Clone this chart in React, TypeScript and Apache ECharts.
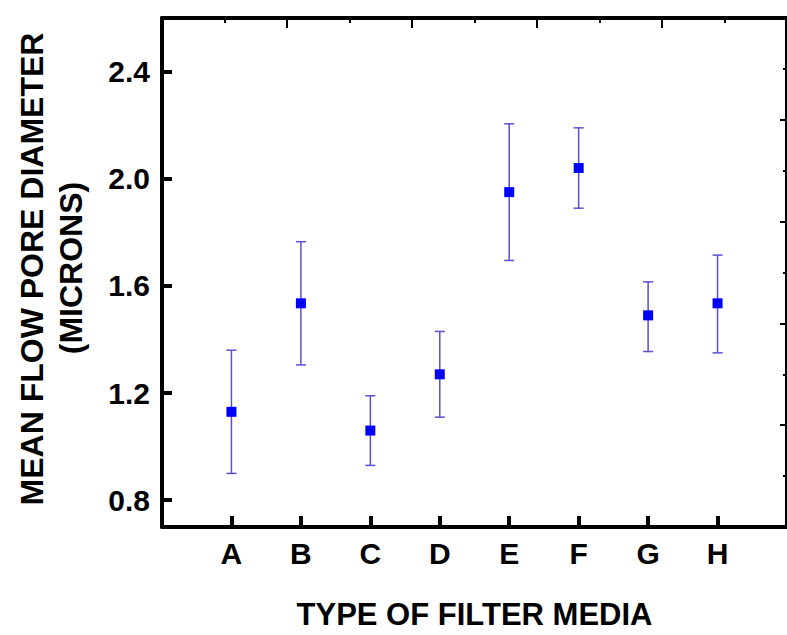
import React, { useEffect, useRef } from "react";
import * as echarts from "echarts";

const categories = ["A", "B", "C", "D", "E", "F", "G", "H"];
const positions = [1, 2, 3, 4, 5, 6, 7, 8];
const means = [1.13, 1.535, 1.06, 1.27, 1.95, 2.04, 1.49, 1.535];
const upper = [1.36, 1.765, 1.19, 1.43, 2.205, 2.19, 1.615, 1.715];
const lower = [0.9, 1.305, 0.93, 1.11, 1.695, 1.89, 1.355, 1.35];
const yTicks = [0.8, 1.2, 1.6, 2.0, 2.4];

const FONT = "Liberation Sans";

export default function App() {
  const ref = useRef<HTMLDivElement>(null);
  useEffect(() => {
    if (!ref.current) return;
    const chart = echarts.init(ref.current, null, { renderer: "svg" });
    const scatterData = positions.map((p, i) => [p, means[i]]);
    const errData = positions.map((p, i) => [p, lower[i], upper[i]]);
    const option: any = {
      animation: false,
      backgroundColor: "#ffffff",
      grid: { left: 162, top: 18, width: 630, bottom: 102 },
      xAxis: [
        {
          type: "value",
          position: "bottom",
          min: 0,
          max: 9,
          axisLine: { show: true, onZero: false, lineStyle: { color: "#000", width: 4 } },
          axisTick: { show: true, inside: true, length: 11, customValues: positions, lineStyle: { color: "#000", width: 4 } },
          axisLabel: {
            show: true,
            customValues: positions,
            formatter: (v: number) => categories[Math.round(v) - 1] ?? "",
            margin: 11,
            color: "#000",
            fontFamily: FONT,
            fontWeight: "bold",
            fontSize: 30,
          },
          splitLine: { show: false },
          name: "TYPE OF FILTER MEDIA",
          nameLocation: "middle",
          nameGap: 72,
          nameTextStyle: { color: "#000", fontFamily: FONT, fontWeight: "bold", fontSize: 31 },
        },
        {
          type: "value",
          position: "top",
          min: 0,
          max: 10,
          interval: 2,
          axisLine: { show: true, onZero: false, lineStyle: { color: "#000", width: 4 } },
          axisTick: { show: true, inside: true, length: 10, lineStyle: { color: "#000", width: 2 } },
          minorTick: { show: true, splitNumber: 2, length: 5, lineStyle: { color: "#000", width: 2 } },
          axisLabel: { show: false },
          splitLine: { show: false },
        },
      ],
      yAxis: [
        {
          type: "value",
          position: "left",
          min: 0.7,
          max: 2.6,
          axisLine: { show: true, onZero: false, lineStyle: { color: "#000", width: 4 } },
          axisTick: { show: true, inside: true, length: 10, customValues: yTicks, lineStyle: { color: "#000", width: 4 } },
          axisLabel: {
            show: true,
            customValues: yTicks,
            formatter: (v: number) => v.toFixed(1),
            margin: 12,
            color: "#000",
            fontFamily: FONT,
            fontWeight: "bold",
            fontSize: 30,
          },
          splitLine: { show: false },
        },
        {
          type: "value",
          position: "right",
          min: 0,
          max: 5,
          interval: 1,
          axisLine: { show: true, onZero: false, lineStyle: { color: "#000", width: 4 } },
          axisTick: { show: true, inside: true, length: 7, lineStyle: { color: "#000", width: 2 } },
          minorTick: { show: true, splitNumber: 2, length: 4, lineStyle: { color: "#000", width: 2 } },
          axisLabel: { show: false },
          splitLine: { show: false },
        },
      ],
      graphic: [
        {
          type: "text",
          x: 32,
          y: 269,
          rotation: Math.PI / 2,
          style: {
            text: "MEAN FLOW PORE DIAMETER",
            fill: "#000",
            font: `bold 32px ${FONT}`,
            align: "center",
            verticalAlign: "middle",
          },
        },
        {
          type: "text",
          x: 71,
          y: 268,
          rotation: Math.PI / 2,
          style: {
            text: "(MICRONS)",
            fill: "#000",
            font: `bold 32px ${FONT}`,
            align: "center",
            verticalAlign: "middle",
          },
        },
      ],
      series: [
        {
          type: "custom",
          xAxisIndex: 0,
          yAxisIndex: 0,
          data: errData,
          encode: { x: 0, y: [1, 2] },
          z: 2,
          renderItem: (params: any, api: any) => {
            const x = api.value(0);
            const lo = api.coord([x, api.value(1)]);
            const hi = api.coord([x, api.value(2)]);
            const hw = 5;
            const style = { stroke: "#5a4fd2", lineWidth: 1.5 };
            return {
              type: "group",
              children: [
                { type: "line", shape: { x1: hi[0], y1: hi[1], x2: lo[0], y2: lo[1] }, style },
                { type: "line", shape: { x1: hi[0] - hw, y1: hi[1], x2: hi[0] + hw, y2: hi[1] }, style },
                { type: "line", shape: { x1: lo[0] - hw, y1: lo[1], x2: lo[0] + hw, y2: lo[1] }, style },
              ],
            };
          },
        },
        {
          type: "scatter",
          xAxisIndex: 0,
          yAxisIndex: 0,
          data: scatterData,
          symbol: "rect",
          symbolSize: 10,
          itemStyle: { color: "#0000ff", opacity: 1 },
          z: 3,
        },
      ],
    };
    chart.setOption(option);
    return () => chart.dispose();
  }, []);
  return (
    <div
      ref={ref}
      style={{ position: "absolute", left: 0, top: 0, width: 787, height: 635, background: "#fff" }}
    />
  );
}
